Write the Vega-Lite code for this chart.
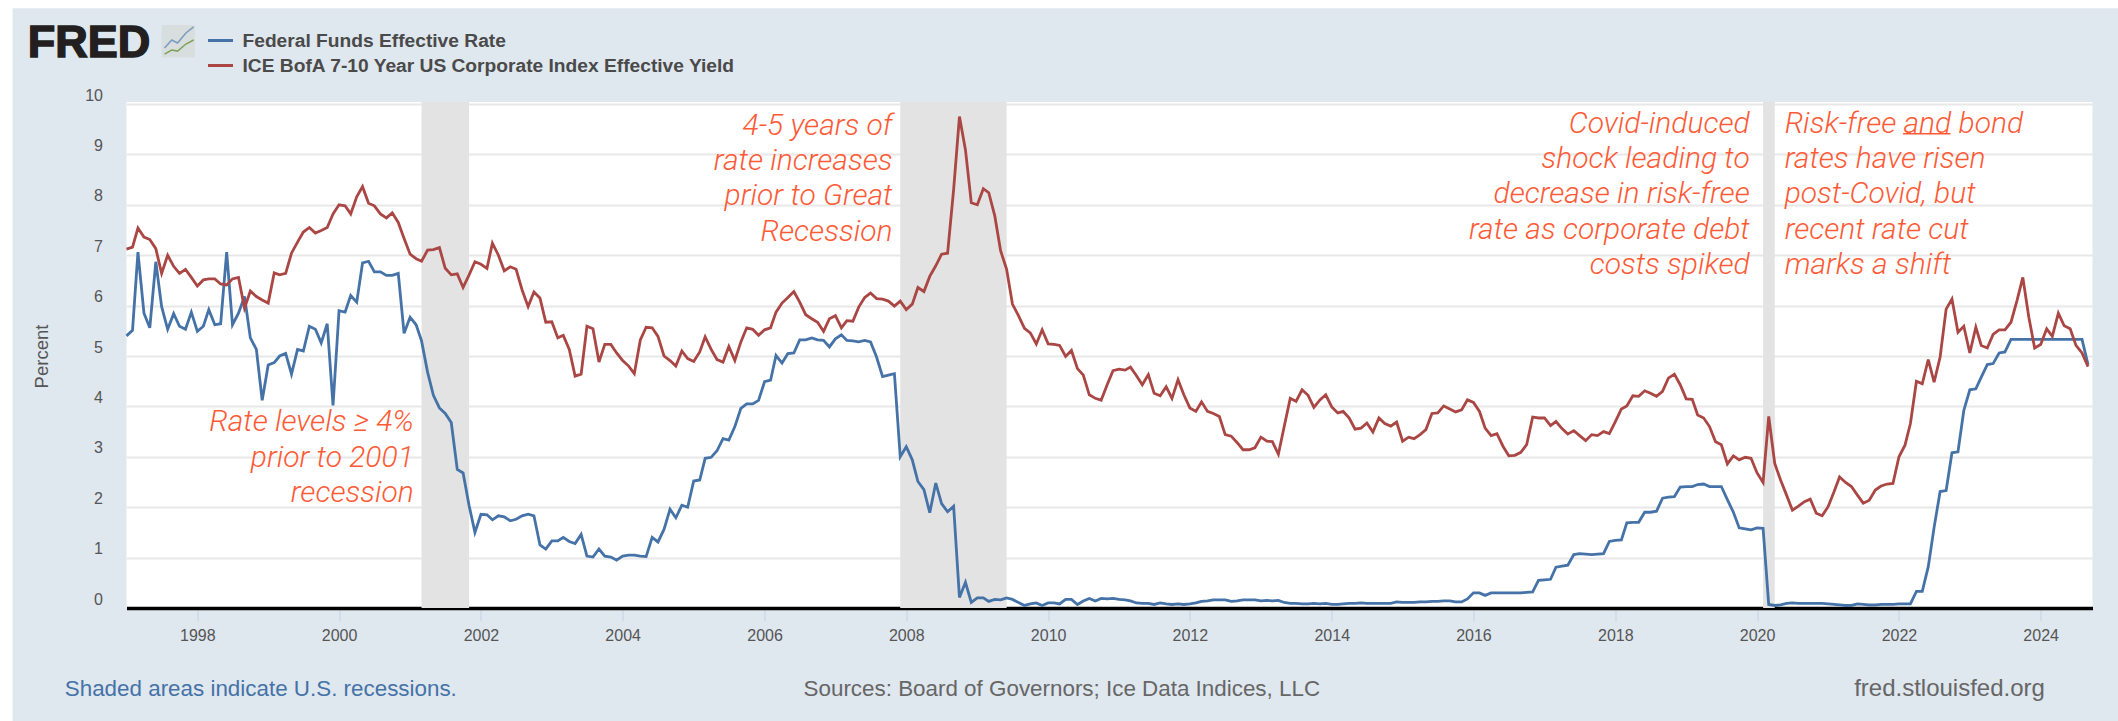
{"$schema":"https://vega.github.io/schema/vega-lite/v6.json","width":1966,"height":506,"autosize":{"type":"none"},"padding":{"left":126.5,"top":102,"right":25.5,"bottom":113},"background":"#dfe7ef","view":{"fill":"white","stroke":null},"config":{"font":"Liberation Sans"},
"datasets":{"rates":[
{"d":"1997-01-01","f":5.4,"i":7.12},{"d":"1997-02-01","f":5.51,"i":7.16},{"d":"1997-03-01","f":7.06,"i":7.54},{"d":"1997-04-01","f":5.85,"i":7.36},{"d":"1997-05-01","f":5.56,"i":7.31},{"d":"1997-06-01","f":6.87,"i":7.13},{"d":"1997-07-01","f":5.98,"i":6.64},{"d":"1997-08-01","f":5.53,"i":7.0},{"d":"1997-09-01","f":5.84,"i":6.78},{"d":"1997-10-01","f":5.59,"i":6.64},{"d":"1997-11-01","f":5.53,"i":6.72},{"d":"1997-12-01","f":5.87,"i":6.56},
{"d":"1998-01-01","f":5.49,"i":6.39},{"d":"1998-02-01","f":5.59,"i":6.51},{"d":"1998-03-01","f":5.92,"i":6.53},{"d":"1998-04-01","f":5.62,"i":6.53},{"d":"1998-05-01","f":5.64,"i":6.43},{"d":"1998-06-01","f":7.06,"i":6.41},{"d":"1998-07-01","f":5.62,"i":6.53},{"d":"1998-08-01","f":5.85,"i":6.56},{"d":"1998-09-01","f":6.18,"i":5.95},{"d":"1998-10-01","f":5.36,"i":6.29},{"d":"1998-11-01","f":5.13,"i":6.18},{"d":"1998-12-01","f":4.12,"i":6.11},
{"d":"1999-01-01","f":4.82,"i":6.05},{"d":"1999-02-01","f":4.87,"i":6.65},{"d":"1999-03-01","f":5.0,"i":6.61},{"d":"1999-04-01","f":5.05,"i":6.64},{"d":"1999-05-01","f":4.64,"i":7.04},{"d":"1999-06-01","f":5.13,"i":7.26},{"d":"1999-07-01","f":5.1,"i":7.46},{"d":"1999-08-01","f":5.59,"i":7.55},{"d":"1999-09-01","f":5.53,"i":7.44},{"d":"1999-10-01","f":5.26,"i":7.49},{"d":"1999-11-01","f":5.64,"i":7.55},{"d":"1999-12-01","f":4.02,"i":7.82},
{"d":"2000-01-01","f":5.9,"i":8.0},{"d":"2000-02-01","f":5.87,"i":7.98},{"d":"2000-03-01","f":6.2,"i":7.82},{"d":"2000-04-01","f":6.07,"i":8.16},{"d":"2000-05-01","f":6.85,"i":8.36},{"d":"2000-06-01","f":6.88,"i":8.03},{"d":"2000-07-01","f":6.67,"i":7.98},{"d":"2000-08-01","f":6.67,"i":7.82},{"d":"2000-09-01","f":6.6,"i":7.74},{"d":"2000-10-01","f":6.6,"i":7.84},{"d":"2000-11-01","f":6.64,"i":7.65},{"d":"2000-12-01","f":5.45,"i":7.33},
{"d":"2001-01-01","f":5.77,"i":7.02},{"d":"2001-02-01","f":5.62,"i":6.93},{"d":"2001-03-01","f":5.3,"i":6.88},{"d":"2001-04-01","f":4.68,"i":7.1},{"d":"2001-05-01","f":4.22,"i":7.11},{"d":"2001-06-01","f":3.97,"i":7.15},{"d":"2001-07-01","f":3.86,"i":6.74},{"d":"2001-08-01","f":3.68,"i":6.61},{"d":"2001-09-01","f":2.75,"i":6.63},{"d":"2001-10-01","f":2.68,"i":6.36},{"d":"2001-11-01","f":2.03,"i":6.61},{"d":"2001-12-01","f":1.5,"i":6.87},
{"d":"2002-01-01","f":1.86,"i":6.82},{"d":"2002-02-01","f":1.85,"i":6.74},{"d":"2002-03-01","f":1.75,"i":7.24},{"d":"2002-04-01","f":1.83,"i":7.0},{"d":"2002-05-01","f":1.81,"i":6.69},{"d":"2002-06-01","f":1.73,"i":6.77},{"d":"2002-07-01","f":1.76,"i":6.72},{"d":"2002-08-01","f":1.83,"i":6.31},{"d":"2002-09-01","f":1.86,"i":5.98},{"d":"2002-10-01","f":1.83,"i":6.27},{"d":"2002-11-01","f":1.25,"i":6.15},{"d":"2002-12-01","f":1.17,"i":5.67},
{"d":"2003-01-01","f":1.33,"i":5.68},{"d":"2003-02-01","f":1.33,"i":5.36},{"d":"2003-03-01","f":1.4,"i":5.41},{"d":"2003-04-01","f":1.32,"i":5.13},{"d":"2003-05-01","f":1.28,"i":4.6},{"d":"2003-06-01","f":1.46,"i":4.64},{"d":"2003-07-01","f":1.03,"i":5.59},{"d":"2003-08-01","f":1.01,"i":5.54},{"d":"2003-09-01","f":1.17,"i":4.88},{"d":"2003-10-01","f":1.03,"i":5.23},{"d":"2003-11-01","f":1.01,"i":5.23},{"d":"2003-12-01","f":0.95,"i":5.06},
{"d":"2004-01-01","f":1.03,"i":4.91},{"d":"2004-02-01","f":1.05,"i":4.8},{"d":"2004-03-01","f":1.05,"i":4.65},{"d":"2004-04-01","f":1.03,"i":5.32},{"d":"2004-05-01","f":1.02,"i":5.57},{"d":"2004-06-01","f":1.4,"i":5.56},{"d":"2004-07-01","f":1.31,"i":5.39},{"d":"2004-08-01","f":1.56,"i":5.0},{"d":"2004-09-01","f":1.96,"i":4.91},{"d":"2004-10-01","f":1.79,"i":4.8},{"d":"2004-11-01","f":2.04,"i":5.1},{"d":"2004-12-01","f":2.0,"i":4.95},
{"d":"2005-01-01","f":2.52,"i":4.89},{"d":"2005-02-01","f":2.54,"i":5.08},{"d":"2005-03-01","f":2.97,"i":5.38},{"d":"2005-04-01","f":2.99,"i":5.13},{"d":"2005-05-01","f":3.12,"i":4.93},{"d":"2005-06-01","f":3.36,"i":4.88},{"d":"2005-07-01","f":3.33,"i":5.19},{"d":"2005-08-01","f":3.6,"i":4.91},{"d":"2005-09-01","f":3.96,"i":5.28},{"d":"2005-10-01","f":4.05,"i":5.56},{"d":"2005-11-01","f":4.05,"i":5.53},{"d":"2005-12-01","f":4.12,"i":5.41},
{"d":"2006-01-01","f":4.49,"i":5.52},{"d":"2006-02-01","f":4.52,"i":5.56},{"d":"2006-03-01","f":5.01,"i":5.87},{"d":"2006-04-01","f":4.86,"i":6.05},{"d":"2006-05-01","f":5.05,"i":6.16},{"d":"2006-06-01","f":5.06,"i":6.28},{"d":"2006-07-01","f":5.32,"i":6.07},{"d":"2006-08-01","f":5.32,"i":5.82},{"d":"2006-09-01","f":5.36,"i":5.74},{"d":"2006-10-01","f":5.32,"i":5.67},{"d":"2006-11-01","f":5.31,"i":5.49},{"d":"2006-12-01","f":5.18,"i":5.74},
{"d":"2007-01-01","f":5.34,"i":5.8},{"d":"2007-02-01","f":5.42,"i":5.56},{"d":"2007-03-01","f":5.31,"i":5.7},{"d":"2007-04-01","f":5.3,"i":5.69},{"d":"2007-05-01","f":5.28,"i":5.97},{"d":"2007-06-01","f":5.31,"i":6.16},{"d":"2007-07-01","f":5.28,"i":6.25},{"d":"2007-08-01","f":4.98,"i":6.14},{"d":"2007-09-01","f":4.59,"i":6.13},{"d":"2007-10-01","f":4.62,"i":6.09},{"d":"2007-11-01","f":4.65,"i":5.99},{"d":"2007-12-01","f":3.0,"i":6.09},
{"d":"2008-01-01","f":3.2,"i":5.92},{"d":"2008-02-01","f":2.94,"i":6.03},{"d":"2008-03-01","f":2.51,"i":6.36},{"d":"2008-04-01","f":2.35,"i":6.28},{"d":"2008-05-01","f":1.89,"i":6.58},{"d":"2008-06-01","f":2.48,"i":6.79},{"d":"2008-07-01","f":2.07,"i":7.02},{"d":"2008-08-01","f":1.91,"i":7.04},{"d":"2008-09-01","f":2.02,"i":8.3},{"d":"2008-10-01","f":0.21,"i":9.75},{"d":"2008-11-01","f":0.51,"i":9.09},{"d":"2008-12-01","f":0.11,"i":8.04},
{"d":"2009-01-01","f":0.2,"i":8.0},{"d":"2009-02-01","f":0.2,"i":8.32},{"d":"2009-03-01","f":0.13,"i":8.24},{"d":"2009-04-01","f":0.17,"i":7.78},{"d":"2009-05-01","f":0.16,"i":7.09},{"d":"2009-06-01","f":0.2,"i":6.72},{"d":"2009-07-01","f":0.17,"i":6.03},{"d":"2009-08-01","f":0.11,"i":5.8},{"d":"2009-09-01","f":0.05,"i":5.55},{"d":"2009-10-01","f":0.08,"i":5.46},{"d":"2009-11-01","f":0.1,"i":5.24},{"d":"2009-12-01","f":0.05,"i":5.52},
{"d":"2010-01-01","f":0.1,"i":5.24},{"d":"2010-02-01","f":0.1,"i":5.23},{"d":"2010-03-01","f":0.08,"i":5.21},{"d":"2010-04-01","f":0.17,"i":4.99},{"d":"2010-05-01","f":0.17,"i":5.11},{"d":"2010-06-01","f":0.07,"i":4.75},{"d":"2010-07-01","f":0.14,"i":4.62},{"d":"2010-08-01","f":0.19,"i":4.23},{"d":"2010-09-01","f":0.14,"i":4.16},{"d":"2010-10-01","f":0.19,"i":4.12},{"d":"2010-11-01","f":0.18,"i":4.43},{"d":"2010-12-01","f":0.19,"i":4.71},
{"d":"2011-01-01","f":0.17,"i":4.74},{"d":"2011-02-01","f":0.16,"i":4.72},{"d":"2011-03-01","f":0.14,"i":4.78},{"d":"2011-04-01","f":0.1,"i":4.61},{"d":"2011-05-01","f":0.09,"i":4.43},{"d":"2011-06-01","f":0.09,"i":4.63},{"d":"2011-07-01","f":0.07,"i":4.26},{"d":"2011-08-01","f":0.1,"i":4.21},{"d":"2011-09-01","f":0.08,"i":4.39},{"d":"2011-10-01","f":0.07,"i":4.16},{"d":"2011-11-01","f":0.08,"i":4.53},{"d":"2011-12-01","f":0.07,"i":4.23},
{"d":"2012-01-01","f":0.08,"i":3.97},{"d":"2012-02-01","f":0.1,"i":3.9},{"d":"2012-03-01","f":0.13,"i":4.09},{"d":"2012-04-01","f":0.14,"i":3.9},{"d":"2012-05-01","f":0.16,"i":3.86},{"d":"2012-06-01","f":0.16,"i":3.8},{"d":"2012-07-01","f":0.16,"i":3.44},{"d":"2012-08-01","f":0.13,"i":3.41},{"d":"2012-09-01","f":0.14,"i":3.28},{"d":"2012-10-01","f":0.16,"i":3.14},{"d":"2012-11-01","f":0.16,"i":3.14},{"d":"2012-12-01","f":0.16,"i":3.18},
{"d":"2013-01-01","f":0.14,"i":3.39},{"d":"2013-02-01","f":0.15,"i":3.31},{"d":"2013-03-01","f":0.14,"i":3.3},{"d":"2013-04-01","f":0.15,"i":3.05},{"d":"2013-05-01","f":0.11,"i":3.6},{"d":"2013-06-01","f":0.09,"i":4.16},{"d":"2013-07-01","f":0.09,"i":4.1},{"d":"2013-08-01","f":0.08,"i":4.33},{"d":"2013-09-01","f":0.08,"i":4.22},{"d":"2013-10-01","f":0.09,"i":3.98},{"d":"2013-11-01","f":0.08,"i":4.13},{"d":"2013-12-01","f":0.09,"i":4.23},
{"d":"2014-01-01","f":0.07,"i":3.99},{"d":"2014-02-01","f":0.07,"i":3.87},{"d":"2014-03-01","f":0.08,"i":3.9},{"d":"2014-04-01","f":0.09,"i":3.77},{"d":"2014-05-01","f":0.09,"i":3.55},{"d":"2014-06-01","f":0.1,"i":3.57},{"d":"2014-07-01","f":0.09,"i":3.67},{"d":"2014-08-01","f":0.09,"i":3.49},{"d":"2014-09-01","f":0.09,"i":3.77},{"d":"2014-10-01","f":0.09,"i":3.66},{"d":"2014-11-01","f":0.09,"i":3.61},{"d":"2014-12-01","f":0.12,"i":3.69},
{"d":"2015-01-01","f":0.11,"i":3.31},{"d":"2015-02-01","f":0.11,"i":3.39},{"d":"2015-03-01","f":0.11,"i":3.36},{"d":"2015-04-01","f":0.12,"i":3.44},{"d":"2015-05-01","f":0.12,"i":3.54},{"d":"2015-06-01","f":0.13,"i":3.86},{"d":"2015-07-01","f":0.13,"i":3.87},{"d":"2015-08-01","f":0.14,"i":4.01},{"d":"2015-09-01","f":0.14,"i":3.95},{"d":"2015-10-01","f":0.12,"i":3.89},{"d":"2015-11-01","f":0.12,"i":3.93},{"d":"2015-12-01","f":0.18,"i":4.13},
{"d":"2016-01-01","f":0.3,"i":4.08},{"d":"2016-02-01","f":0.3,"i":3.9},{"d":"2016-03-01","f":0.25,"i":3.57},{"d":"2016-04-01","f":0.3,"i":3.42},{"d":"2016-05-01","f":0.3,"i":3.46},{"d":"2016-06-01","f":0.3,"i":3.21},{"d":"2016-07-01","f":0.3,"i":3.02},{"d":"2016-08-01","f":0.3,"i":3.03},{"d":"2016-09-01","f":0.3,"i":3.09},{"d":"2016-10-01","f":0.31,"i":3.24},{"d":"2016-11-01","f":0.32,"i":3.79},{"d":"2016-12-01","f":0.55,"i":3.77},
{"d":"2017-01-01","f":0.56,"i":3.77},{"d":"2017-02-01","f":0.57,"i":3.62},{"d":"2017-03-01","f":0.81,"i":3.7},{"d":"2017-04-01","f":0.83,"i":3.56},{"d":"2017-05-01","f":0.85,"i":3.45},{"d":"2017-06-01","f":1.06,"i":3.52},{"d":"2017-07-01","f":1.08,"i":3.42},{"d":"2017-08-01","f":1.07,"i":3.32},{"d":"2017-09-01","f":1.06,"i":3.44},{"d":"2017-10-01","f":1.07,"i":3.42},{"d":"2017-11-01","f":1.08,"i":3.5},{"d":"2017-12-01","f":1.32,"i":3.46},
{"d":"2018-01-01","f":1.34,"i":3.7},{"d":"2018-02-01","f":1.35,"i":3.95},{"d":"2018-03-01","f":1.69,"i":4.01},{"d":"2018-04-01","f":1.7,"i":4.21},{"d":"2018-05-01","f":1.7,"i":4.2},{"d":"2018-06-01","f":1.9,"i":4.31},{"d":"2018-07-01","f":1.9,"i":4.26},{"d":"2018-08-01","f":1.92,"i":4.2},{"d":"2018-09-01","f":2.18,"i":4.3},{"d":"2018-10-01","f":2.2,"i":4.56},{"d":"2018-11-01","f":2.21,"i":4.64},{"d":"2018-12-01","f":2.4,"i":4.43},
{"d":"2019-01-01","f":2.41,"i":4.15},{"d":"2019-02-01","f":2.41,"i":4.14},{"d":"2019-03-01","f":2.45,"i":3.83},{"d":"2019-04-01","f":2.46,"i":3.77},{"d":"2019-05-01","f":2.41,"i":3.6},{"d":"2019-06-01","f":2.41,"i":3.3},{"d":"2019-07-01","f":2.41,"i":3.24},{"d":"2019-08-01","f":2.15,"i":2.86},{"d":"2019-09-01","f":1.9,"i":3.02},{"d":"2019-10-01","f":1.59,"i":2.94},{"d":"2019-11-01","f":1.57,"i":2.99},{"d":"2019-12-01","f":1.55,"i":2.97},
{"d":"2020-01-01","f":1.59,"i":2.68},{"d":"2020-02-01","f":1.58,"i":2.49},{"d":"2020-03-01","f":0.07,"i":3.8},{"d":"2020-04-01","f":0.05,"i":2.87},{"d":"2020-05-01","f":0.06,"i":2.54},{"d":"2020-06-01","f":0.09,"i":2.24},{"d":"2020-07-01","f":0.1,"i":1.94},{"d":"2020-08-01","f":0.09,"i":2.02},{"d":"2020-09-01","f":0.09,"i":2.11},{"d":"2020-10-01","f":0.09,"i":2.16},{"d":"2020-11-01","f":0.09,"i":1.88},{"d":"2020-12-01","f":0.09,"i":1.83},
{"d":"2021-01-01","f":0.08,"i":2.01},{"d":"2021-02-01","f":0.07,"i":2.31},{"d":"2021-03-01","f":0.06,"i":2.6},{"d":"2021-04-01","f":0.05,"i":2.49},{"d":"2021-05-01","f":0.05,"i":2.41},{"d":"2021-06-01","f":0.08,"i":2.24},{"d":"2021-07-01","f":0.07,"i":2.08},{"d":"2021-08-01","f":0.06,"i":2.14},{"d":"2021-09-01","f":0.06,"i":2.34},{"d":"2021-10-01","f":0.07,"i":2.42},{"d":"2021-11-01","f":0.07,"i":2.46},{"d":"2021-12-01","f":0.07,"i":2.47},
{"d":"2022-01-01","f":0.08,"i":3.0},{"d":"2022-02-01","f":0.08,"i":3.23},{"d":"2022-03-01","f":0.08,"i":3.66},{"d":"2022-04-01","f":0.33,"i":4.5},{"d":"2022-05-01","f":0.33,"i":4.45},{"d":"2022-06-01","f":0.82,"i":4.93},{"d":"2022-07-01","f":1.6,"i":4.48},{"d":"2022-08-01","f":2.31,"i":4.98},{"d":"2022-09-01","f":2.33,"i":5.93},{"d":"2022-10-01","f":3.08,"i":6.13},{"d":"2022-11-01","f":3.1,"i":5.47},{"d":"2022-12-01","f":3.92,"i":5.59},
{"d":"2023-01-01","f":4.33,"i":5.06},{"d":"2023-02-01","f":4.35,"i":5.57},{"d":"2023-03-01","f":4.58,"i":5.21},{"d":"2023-04-01","f":4.83,"i":5.16},{"d":"2023-05-01","f":4.85,"i":5.43},{"d":"2023-06-01","f":5.06,"i":5.52},{"d":"2023-07-01","f":5.08,"i":5.52},{"d":"2023-08-01","f":5.33,"i":5.67},{"d":"2023-09-01","f":5.33,"i":6.1},{"d":"2023-10-01","f":5.33,"i":6.56},{"d":"2023-11-01","f":5.33,"i":5.77},{"d":"2023-12-01","f":5.33,"i":5.16},
{"d":"2024-01-01","f":5.33,"i":5.23},{"d":"2024-02-01","f":5.33,"i":5.54},{"d":"2024-03-01","f":5.33,"i":5.39},{"d":"2024-04-01","f":5.33,"i":5.85},{"d":"2024-05-01","f":5.33,"i":5.6},{"d":"2024-06-01","f":5.33,"i":5.54},{"d":"2024-07-01","f":5.33,"i":5.21},{"d":"2024-08-01","f":5.33,"i":5.06},{"d":"2024-09-01","f":4.83,"i":4.79}
]},
"layer":[
{"data":{"values":[{"s":"2001-03-01","e":"2001-11-01","lo":0,"hi":10.04},{"s":"2007-12-01","e":"2009-06-01","lo":0,"hi":10.04},{"s":"2020-02-01","e":"2020-04-01","lo":0,"hi":10.04}],"format":{"parse":{"s":"date","e":"date"}}},"mark":{"type":"rect","fill":"#e3e3e3"},"encoding":{"x":{"field":"s","type":"temporal","title":null,"scale":{"type":"utc","domain":[852076800000,1727136000000],"nice":false},"axis":{"tickCount":{"interval":"year","step":2},"format":"%Y","grid":false,"domainColor":"#000000","domainWidth":3.5,"tickColor":"#c5d2e6","tickSize":13,"tickWidth":1,"labelFontSize":16,"labelColor":"#555555","labelPadding":6,"title":null}},"x2":{"field":"e"},"y":{"field":"lo","type":"quantitative","title":"Percent","scale":{"domain":[0,10.04],"nice":false,"zero":false},"axis":{"values":[0,1,2,3,4,5,6,7,8,9,10],"grid":true,"gridColor":"#e8e8e8","gridWidth":2,"domain":false,"ticks":false,"labelPadding":24,"labelOffset":-9,"labelFontSize":16,"labelColor":"#555555","titleFontSize":18.5,"titleColor":"#555555","titleFontWeight":"normal","titleX":-75,"titleY":254,"title":"Percent"}},"y2":{"field":"hi"}}},
{"data":{"values":[{"s":"1995-03-19","e":"1995-05-25","lo":-2.3,"hi":12.1},{"s":"1995-03-19","e":"2025-02-10","lo":11.9,"hi":12.1}],"format":{"parse":{"s":"date","e":"date"}}},"mark":{"type":"rect","fill":"white"},"encoding":{"x":{"field":"s","type":"temporal"},"x2":{"field":"e"},"y":{"field":"lo","type":"quantitative"},"y2":{"field":"hi"}}},
{"data":{"name":"rates"},"transform":[{"fold":["f","i"],"as":["series","rate"]}],"mark":{"type":"line","strokeWidth":2.8,"strokeJoin":"miter","interpolate":"linear"},"encoding":{"x":{"field":"d","type":"temporal"},"y":{"field":"rate","type":"quantitative"},"color":{"field":"series","type":"nominal","scale":{"domain":["f","i"],"range":["#4572a7","#aa4643"]},"legend":{"title":null,"orient":"none","legendX":80,"legendY":-75.5,"symbolType":"stroke","symbolSize":625,"symbolStrokeWidth":3,"rowPadding":0,"labelFontSize":19.2,"labelColor":"#4a4a4a","labelFontWeight":"bold","labelOffset":8,"labelLimit":800,"labelExpr":"datum.label == 'f' ? 'Federal Funds Effective Rate' : 'ICE BofA 7-10 Year US Corporate Index Effective Yield'"}}}},
{"data":{"values":[{"t":"Rate levels ≥ 4%","d":"2001-01-20","v":3.69},{"t":"prior to 2001","d":"2001-01-20","v":2.98},{"t":"recession","d":"2001-01-20","v":2.28},{"t":"4-5 years of","d":"2007-10-22","v":9.56},{"t":"rate increases","d":"2007-10-22","v":8.87},{"t":"prior to Great","d":"2007-10-22","v":8.17},{"t":"Recession","d":"2007-10-22","v":7.46},{"t":"Covid-induced","d":"2019-11-24","v":9.6},{"t":"shock leading to","d":"2019-11-24","v":8.91},{"t":"decrease in risk-free","d":"2019-11-24","v":8.21},{"t":"rate as corporate debt","d":"2019-11-24","v":7.5},{"t":"costs spiked","d":"2019-11-24","v":6.8}]},"mark":{"type":"text","align":"right","baseline":"middle","font":"Roboto","fontStyle":"italic","fontWeight":300,"fontSize":30,"color":"#ff5a36"},"encoding":{"x":{"field":"d","type":"temporal"},"y":{"field":"v","type":"quantitative"},"text":{"field":"t"}}},
{"data":{"values":[{"t":"Risk-free and bond","d":"2020-05-22","v":9.6},{"t":"rates have risen","d":"2020-05-22","v":8.91},{"t":"post-Covid, but","d":"2020-05-22","v":8.21},{"t":"recent rate cut","d":"2020-05-22","v":7.5},{"t":"marks a shift","d":"2020-05-22","v":6.8}]},"mark":{"type":"text","align":"left","baseline":"middle","font":"Roboto","fontStyle":"italic","fontWeight":300,"fontSize":30,"color":"#ff5a36"},"encoding":{"x":{"field":"d","type":"temporal"},"y":{"field":"v","type":"quantitative"},"text":{"field":"t"}}},
{"data":{"values":[{"s":"2022-01-22","e":"2022-09-24","v":9.41}],"format":{"parse":{"s":"date","e":"date"}}},"mark":{"type":"rule","color":"#ff5a36","strokeWidth":1.5},"encoding":{"x":{"field":"s","type":"temporal"},"x2":{"field":"e"},"y":{"field":"v","type":"quantitative"}}},
{"data":{"values":[{"t":"Shaded areas indicate U.S. recessions.","d":"1996-02-18","v":-1.61}]},"mark":{"type":"text","align":"left","baseline":"middle","fontSize":22.4,"color":"#4572a7"},"encoding":{"x":{"field":"d","type":"temporal"},"y":{"field":"v","type":"quantitative"},"text":{"field":"t"}}},
{"data":{"values":[{"t":"Sources: Board of Governors; Ice Data Indices, LLC","d":"2006-07-21","v":-1.61}]},"mark":{"type":"text","align":"left","baseline":"middle","fontSize":22.4,"color":"#666666"},"encoding":{"x":{"field":"d","type":"temporal"},"y":{"field":"v","type":"quantitative"},"text":{"field":"t"}}},
{"data":{"values":[{"t":"fred.stlouisfed.org","d":"2021-05-15","v":-1.61}]},"mark":{"type":"text","align":"left","baseline":"middle","fontSize":24,"color":"#666666"},"encoding":{"x":{"field":"d","type":"temporal"},"y":{"field":"v","type":"quantitative"},"text":{"field":"t"}}},
{"data":{"values":[{"t":"FRED","d":"1995-08-11","v":10.93}]},"mark":{"type":"text","align":"left","baseline":"alphabetic","fontSize":45,"fontWeight":"bold","color":"#231f20","stroke":"#231f20","strokeWidth":1.5},"encoding":{"x":{"field":"d","type":"temporal"},"y":{"field":"v","type":"quantitative"},"text":{"field":"t"}}},
{"data":{"values":[{"s":"1997-07-01","e":"1997-12-19","lo":10.93,"hi":11.57}],"format":{"parse":{"s":"date","e":"date"}}},"mark":{"type":"rect","fill":"#d8dddd"},"encoding":{"x":{"field":"s","type":"temporal"},"x2":{"field":"e"},"y":{"field":"lo","type":"quantitative"},"y2":{"field":"hi"}}},
{"data":{"values":[{"d":"1997-07-16","v":11.11},{"d":"1997-08-22","v":11.27},{"d":"1997-09-21","v":11.21},{"d":"1997-11-03","v":11.41},{"d":"1997-12-13","v":11.53}]},"mark":{"type":"line","stroke":"#7b9cc0","strokeWidth":1.5},"encoding":{"x":{"field":"d","type":"temporal"},"y":{"field":"v","type":"quantitative"}}},
{"data":{"values":[{"d":"1997-07-16","v":10.99},{"d":"1997-08-22","v":11.07},{"d":"1997-09-21","v":11.05},{"d":"1997-11-03","v":11.19},{"d":"1997-12-13","v":11.27}]},"mark":{"type":"line","stroke":"#7fa35a","strokeWidth":1.5},"encoding":{"x":{"field":"d","type":"temporal"},"y":{"field":"v","type":"quantitative"}}}
]}
